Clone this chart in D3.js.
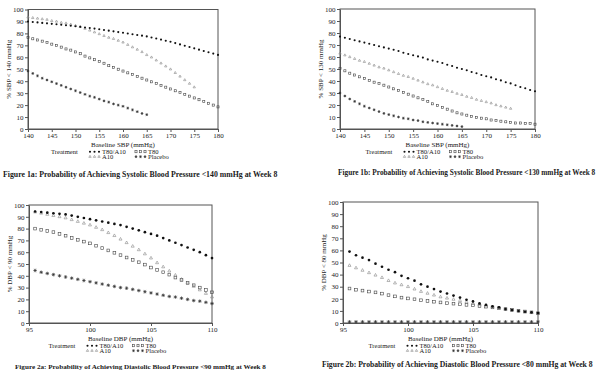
<!DOCTYPE html>
<html>
<head>
<meta charset="utf-8">
<script src="https://d3js.org/d3.v7.min.js"></script>
<style>
  body { margin: 0; background: #fff; }
  svg text { font-family: "Liberation Serif", "Times New Roman", serif; fill: #1a1a1a; }
  .axis path, .axis line { stroke: #555; }
  .axis text { font-size: 7px; font-family: "Liberation Serif", serif; }
  .ttl { font-size: 7px; }
  .leg { font-size: 6.6px; }
  .cap { font-weight: bold; }
</style>
</head>
<body>
<svg id="chart" width="600" height="376"></svg>
<script>
// baseline values on the x axis
const sbpX = [140,141,142,143,144,145,146,147,148,149,150,151,152,153,154,155,156,157,158,159,160,
              161,162,163,164,165,166,167,168,169,170,171,172,173,174,175,176,177,178,179,180];
const dbpX = [95.5,96,96.5,97,97.5,98,98.5,99,99.5,100,100.5,101,101.5,102,102.5,103,103.5,104,104.5,105,
              105.5,106,106.5,107,107.5,108,108.5,109,109.5,110];

const sbpTicks = [140,145,150,155,160,165,170,175,180];
const dbpTicks = [95,100,105,110];
const yTicks = [0,10,20,30,40,50,60,70,80,90,100];

// figure 1a: % SBP < 140
const f1a_T80A10 = [90,89.6,89.2,88.8,88.4,88,87.6,87.2,86.8,86.4,86,85.5,85,84.5,84,83.5,82.9,82.3,81.7,81.1,80.5,
                    79.9,79.3,78.7,78.1,77.5,76.6,75.7,74.8,73.9,73,71.9,70.8,69.7,68.6,67.5,66.4,65.3,64.2,63.1,62];
const f1a_A10 = [93.5,93,92.5,92,91.5,90.5,90,89,88.5,87.5,86.5,85.5,84,82.5,81,79.5,78,76.5,75.5,74,72.5,
                 70.5,68.5,66.5,64.5,62,60,57.5,55,52.5,50,47,44,41,38,35];
const f1a_T80 = [76.5,75.5,74.5,73.5,72.5,71,70,68.5,67,66,64.5,63,61,59.5,58,56.5,55,53,51.5,50,48.5,
                 47,45.5,44,42.5,41,39.5,38,36.5,35,33.5,32,30.5,29,27.5,26,24.5,23,21.5,20,18.5];
const f1a_Placebo = [48.5,46.5,44.5,42.5,41,39.5,38,36.5,35,33.5,32,30.5,29,27.5,26.5,25,23.5,22.5,21,20,19,
                     17.5,16,14.5,13,12];

// figure 1b: % SBP < 130
const f1b_T80A10 = [77,76,75,74,73,72,71,70,69,68,67,66,65,63.5,62.5,61.5,60.5,59.5,58,57,56,
                    55,53.5,52.5,51,50,49,47.5,46.5,45,44,43,41.5,40.5,39,38,36.5,35,34,32.5,31.5];
const f1b_A10 = [63,61.5,60,58.5,57,56,54.5,53,51.5,50.5,49,47.5,46,44.5,43.5,42,40.5,39,37.5,36.5,35,
                 33.5,32,31,29.5,28.5,27,26,24.5,23.5,22.5,21.5,20,19,18,17];
const f1b_T80 = [50.5,48.5,46.5,45,43.5,42,40.5,39,38,36.5,35,33.5,32,30.5,29,27.5,26,24.5,23,21,19.5,
                 18,16.5,15,13.5,12.5,11.5,10.5,9.5,9,8.5,7.5,7,6.5,6,5.5,5,5,4.5,4.5,4];
const f1b_Placebo = [30,27.5,25,23,21,19,17.5,16,14.5,13,12,11,10,9,8.5,7.5,7,6,5.5,5,4.5,
                     4,3.5,3,2.5,2];

// figure 2a: % DBP < 90
const f2a_T80A10 = [94.5,94,93.5,93,92.5,92,91,90,89,88,87,86,85,84,83,81.5,80,78.5,77,75.5,
                    74,72,70,68,66,64,62,60,57.5,55];
const f2a_A10 = [94,93,92,91,90,89,87.5,86,84.5,83,81,79,76.5,74,71,68,65,62,58.5,55,
                 51,47.5,44,40.5,37,34,31,28,25,22];
const f2a_T80 = [80,79,78,77,75.5,74,72,70.5,69,67.5,65.5,63.5,61.5,59.5,57.5,55.5,53.5,51.5,49.5,47,
                 45,43,41,38.5,36.5,34,32,30,28,26];
const f2a_Placebo = [44.5,43,42,41,40,39,38,37,36,35,34,33,32,31,30,29.5,28.5,27.5,26.5,25.5,
                     24.5,23.5,22.5,22,21,20,19,18.5,17.5,16.5];

// figure 2b: % DBP < 80
const f2b_T80A10 = [59,56,54,52,49,46.5,44,42,39,37,35,32,30,28,26,24.4,22.7,21,19.2,17.8,
                    16.2,15,13.7,12.9,11.5,10.7,9.9,9.3,8.8,8.2];
const f2b_A10 = [47.5,45.5,43.5,41.5,39.5,37.5,35,33,31.5,30,28,26,24.5,23,21.5,20.5,19.5,18.5,17.3,16,
                 15,14,13.2,12.3,11.3,10.7,9.7,9,8.5,7.7];
const f2b_T80 = [28.5,27.5,26.8,26,25.3,24.3,23,22,21,20.3,19.6,18.8,18.2,17.6,17,16.4,16,15.5,15,14.6,
                 14.1,13.5,12.9,12.2,11.5,10.9,10.2,9.5,8.8,8];
const f2b_Placebo = [1,1,1,1,1,1,1,1,1,1,1,1,1,1,1,1,1,1,1,1,1,1,1,1,1,1,1,1,1,1];

const treatments = ["T80/A10", "A10", "T80", "Placebo"];

const svg = d3.select("#chart");

// marker drawing, one shape per treatment
function marker(g, kind, s) {
  if (kind === "T80/A10") {
    g.append("circle").attr("r", s * 0.5).attr("fill", "#111");
  } else if (kind === "A10") {
    g.append("path").attr("d", d3.symbol(d3.symbolTriangle2, s * s * 0.9)())
      .attr("fill", "none").attr("stroke", "#888").attr("stroke-width", 0.6);
  } else if (kind === "T80") {
    g.append("rect").attr("x", -s / 2).attr("y", -s / 2).attr("width", s).attr("height", s)
      .attr("fill", "none").attr("stroke", "#444").attr("stroke-width", 0.6);
  } else {
    const r = s * 0.65;
    g.append("path")
      .attr("d", `M${-r},0H${r}M0,${-r}V${r}M${-r*0.7},${-r*0.7}L${r*0.7},${r*0.7}M${-r*0.7},${r*0.7}L${r*0.7},${-r*0.7}`)
      .attr("stroke", "#333").attr("stroke-width", 0.7).attr("fill", "none");
  }
}

const panels = [
  { left: 28, right: 218, top: 9.5, bottom: 129, xDom: [140, 180], xTicks: sbpTicks, ms: 2.1,
    xs: sbpX, series: [f1a_T80A10, f1a_A10, f1a_T80, f1a_Placebo],
    yTitle: "% SBP < 140 mmHg", xTitle: "Baseline SBP (mmHg)",
    caption: "Figure 1a: Probability of Achieving Systolic Blood Pressure <140 mmHg at Week 8", capX: 3, capY: 177, capSize: 7.8 },
  { left: 340, right: 535, top: 9, bottom: 129, xDom: [140, 180], xTicks: sbpTicks, ms: 2.1,
    xs: sbpX, series: [f1b_T80A10, f1b_A10, f1b_T80, f1b_Placebo],
    yTitle: "% SBP < 130 mmHg", xTitle: "Baseline SBP (mmHg)",
    caption: "Figure 1b: Probability of Achieving Systolic Blood Pressure <130 mmHg at Week 8", capX: 338, capY: 175, capSize: 7.3 },
  { left: 29, right: 212, top: 205, bottom: 323, xDom: [95, 110], xTicks: dbpTicks, ms: 2.7,
    xs: dbpX, series: [f2a_T80A10, f2a_A10, f2a_T80, f2a_Placebo],
    yTitle: "% DBP < 90 mmHg", xTitle: "Baseline DBP (mmHg)",
    caption: "Figure 2a: Probability of Achieving Diastolic Blood Pressure <90 mmHg at Week 8", capX: 15, capY: 369, capSize: 7.15 },
  { left: 343, right: 538, top: 202, bottom: 323, xDom: [95, 110], xTicks: dbpTicks, ms: 2.7,
    xs: dbpX, series: [f2b_T80A10, f2b_A10, f2b_T80, f2b_Placebo],
    yTitle: "% DBP < 80 mmHg", xTitle: "Baseline DBP (mmHg)",
    caption: "Figure 2b: Probability of Achieving Diastolic Blood Pressure <80 mmHg at Week 8", capX: 322, capY: 367, capSize: 7.7 }
];

panels.forEach(p => {
  const x = d3.scaleLinear().domain(p.xDom).range([p.left, p.right]);
  const y = d3.scaleLinear().domain([0, 100]).range([p.bottom, p.top]);
  const g = svg.append("g");

  g.append("g").attr("class", "axis")
    .attr("transform", `translate(${p.left},0)`)
    .call(d3.axisLeft(y).tickValues(yTicks).tickSize(3).tickSizeOuter(0).tickPadding(1.5));
  g.append("g").attr("class", "axis")
    .attr("transform", `translate(0,${p.bottom})`)
    .call(d3.axisBottom(x).tickValues(p.xTicks).tickSize(3).tickSizeOuter(0).tickPadding(1.5));

  g.append("rect").attr("x", p.left).attr("y", p.top)
    .attr("width", p.right - p.left).attr("height", p.bottom - p.top)
    .attr("fill", "none").attr("stroke", "#555").attr("stroke-width", 1);

  // markers, drawn back to front so dots stay on top
  [3, 2, 1, 0].forEach(i => {
    const vals = p.series[i];
    g.selectAll(null).data(vals).join("g")
      .attr("transform", (d, j) => `translate(${x(p.xs[j])},${y(d)})`)
      .each(function () { marker(d3.select(this), treatments[i], p.ms); });
  });

  const cx = (p.left + p.right) / 2;
  g.append("text").attr("class", "ttl")
    .attr("transform", `translate(${p.left - 17},${(p.top + p.bottom) / 2}) rotate(-90)`)
    .attr("text-anchor", "middle").text(p.yTitle);
  g.append("text").attr("class", "ttl").attr("x", cx).attr("y", p.bottom + 18)
    .attr("text-anchor", "middle").text(p.xTitle);

  // legend
  const ly = p.bottom + 25;
  g.append("text").attr("class", "leg").attr("x", cx - 72).attr("y", ly).text("Treatment");
  const cols = [
    { name: "T80/A10", dx: -33, dy: 0 },
    { name: "T80", dx: 13, dy: 0 },
    { name: "A10", dx: -33, dy: 5 },
    { name: "Placebo", dx: 13, dy: 5 }
  ];
  cols.forEach(c => {
    for (let k = 0; k < 3; k++) {
      const mg = g.append("g").attr("transform", `translate(${cx + c.dx + k * 4.5},${ly - 2.3 + c.dy})`);
      marker(mg, c.name, 2.1);
    }
    g.append("text").attr("class", "leg").attr("x", cx + c.dx + 12).attr("y", ly + c.dy).text(c.name);
  });

  svg.append("text").attr("class", "cap").attr("x", p.capX).attr("y", p.capY)
    .style("font-size", p.capSize + "px").text(p.caption);
});
</script>
</body>
</html>
